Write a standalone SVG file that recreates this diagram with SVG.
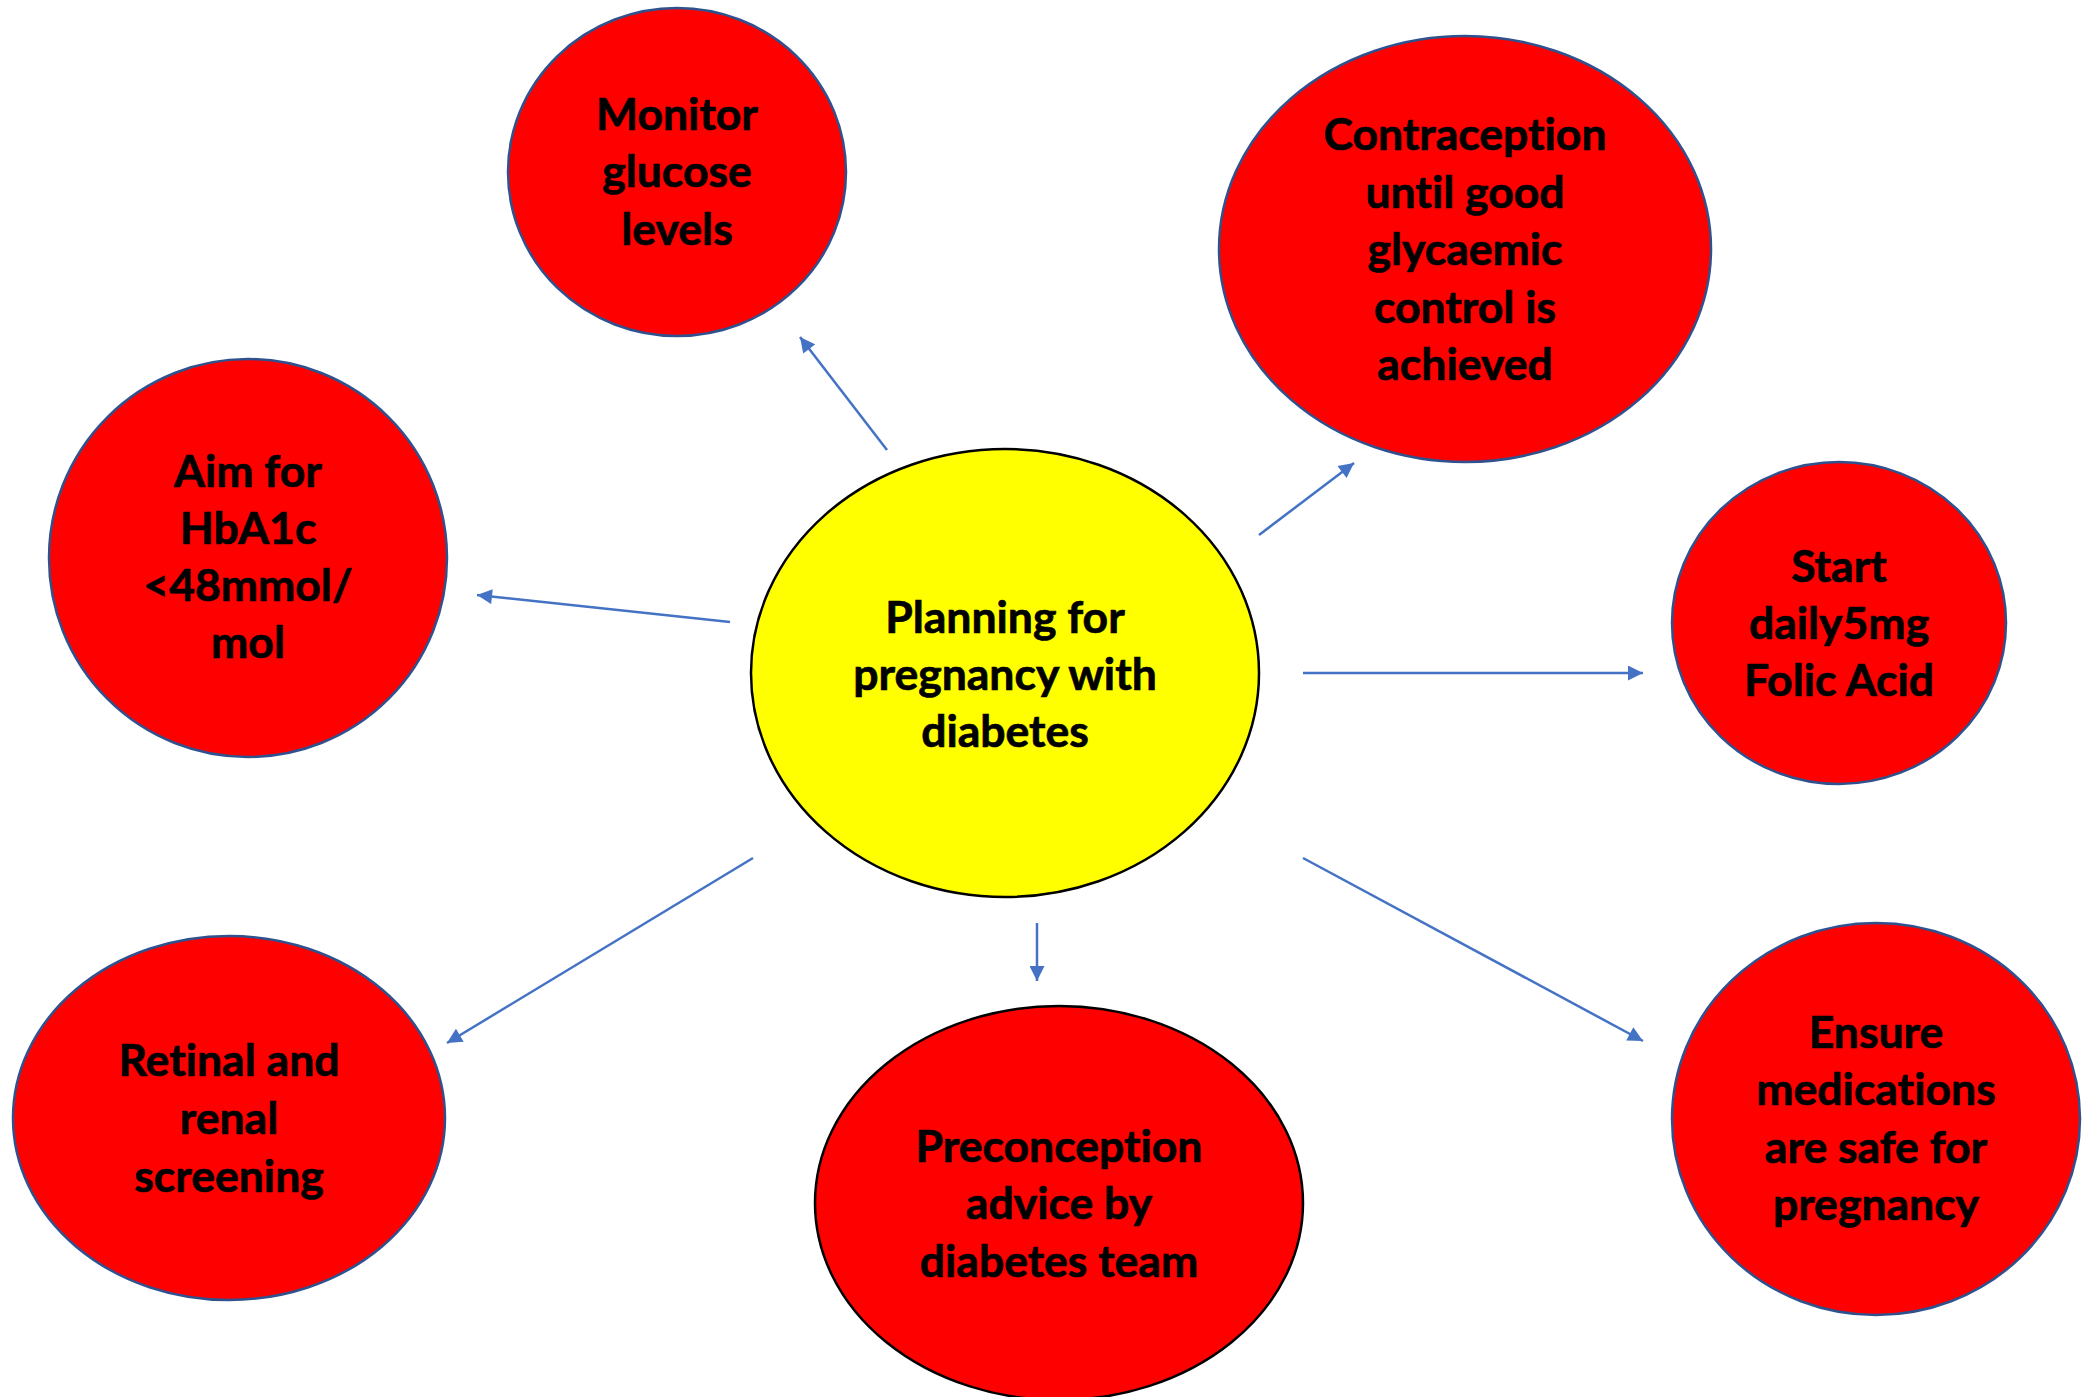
<svg xmlns="http://www.w3.org/2000/svg" width="2085" height="1397" viewBox="0 0 2085 1397">
  <style>
    .red { fill: #FF0000; stroke: #2F528F; stroke-width: 2.5; }
    .redk { fill: #FF0000; stroke: #000000; stroke-width: 2.5; }
    .yellow { fill: #FFFF00; stroke: #000000; stroke-width: 2.5; }
    .lbl { font-family: Lato, "Open Sans", "Liberation Sans", sans-serif; font-weight: bold; font-size: 44.5px; fill: #000000; stroke: #000000; stroke-width: 0.7; text-anchor: middle; font-variant-ligatures: none; }
    .conn line { stroke: #4472C4; stroke-width: 2.5; fill: none; }
  </style>
  <defs>
    <marker id="arr" viewBox="0 0 10 10" refX="10" refY="5" markerWidth="17" markerHeight="15" markerUnits="userSpaceOnUse" orient="auto">
      <path d="M0,0 L10,5 L0,10 z" fill="#4472C4"/>
    </marker>
  </defs>
  <rect width="2085" height="1397" fill="#FFFFFF"/>

  <g id="connectors" class="conn">
    <line x1="887" y1="450" x2="800" y2="337" marker-end="url(#arr)"/>
    <line x1="1259" y1="535" x2="1354" y2="463" marker-end="url(#arr)"/>
    <line x1="730" y1="622" x2="477" y2="595" marker-end="url(#arr)"/>
    <line x1="1303" y1="673" x2="1643" y2="673" marker-end="url(#arr)"/>
    <line x1="753" y1="858" x2="447" y2="1043" marker-end="url(#arr)"/>
    <line x1="1037" y1="923" x2="1037" y2="981" marker-end="url(#arr)"/>
    <line x1="1303" y1="858" x2="1643" y2="1041" marker-end="url(#arr)"/>
  </g>

  <g id="node-monitor">
    <ellipse class="red" cx="677" cy="172" rx="169" ry="164"/>
    <text class="lbl" x="677" y="130">Monitor</text>
    <text class="lbl" x="677" y="187">glucose</text>
    <text class="lbl" x="677" y="245">levels</text>
  </g>

  <g id="node-contraception">
    <ellipse class="red" cx="1465" cy="249" rx="246" ry="213"/>
    <text class="lbl" x="1465" y="150">Contraception</text>
    <text class="lbl" x="1465" y="208">until good</text>
    <text class="lbl" x="1465" y="265">glycaemic</text>
    <text class="lbl" x="1465" y="323">control is</text>
    <text class="lbl" x="1465" y="380">achieved</text>
  </g>

  <g id="node-aim">
    <ellipse class="red" cx="248" cy="558" rx="199" ry="199"/>
    <text class="lbl" x="248" y="487">Aim for</text>
    <text class="lbl" x="248" y="544">HbA1c</text>
    <text class="lbl" x="248" y="601">&lt;48mmol/</text>
    <text class="lbl" x="248" y="658">mol</text>
  </g>

  <g id="node-center">
    <ellipse class="yellow" cx="1005" cy="673" rx="254" ry="224"/>
    <text class="lbl" x="1005" y="633">Planning for</text>
    <text class="lbl" x="1005" y="690">pregnancy with</text>
    <text class="lbl" x="1005" y="747">diabetes</text>
  </g>

  <g id="node-start">
    <ellipse class="red" cx="1839" cy="623" rx="167" ry="161"/>
    <text class="lbl" x="1839" y="582">Start</text>
    <text class="lbl" x="1839" y="639">daily5mg</text>
    <text class="lbl" x="1839" y="696">Folic Acid</text>
  </g>

  <g id="node-retinal">
    <ellipse class="red" cx="229" cy="1118" rx="216" ry="182"/>
    <text class="lbl" x="229" y="1076">Retinal and</text>
    <text class="lbl" x="229" y="1134">renal</text>
    <text class="lbl" x="229" y="1192">screening</text>
  </g>

  <g id="node-preconception">
    <ellipse class="redk" cx="1059" cy="1203" rx="244" ry="197"/>
    <text class="lbl" x="1059" y="1162">Preconception</text>
    <text class="lbl" x="1059" y="1219">advice by</text>
    <text class="lbl" x="1059" y="1277">diabetes team</text>
  </g>

  <g id="node-ensure">
    <ellipse class="red" cx="1876" cy="1119" rx="204" ry="196"/>
    <text class="lbl" x="1876" y="1048">Ensure</text>
    <text class="lbl" x="1876" y="1105">medications</text>
    <text class="lbl" x="1876" y="1163">are safe for</text>
    <text class="lbl" x="1876" y="1220">pregnancy</text>
  </g>
</svg>
